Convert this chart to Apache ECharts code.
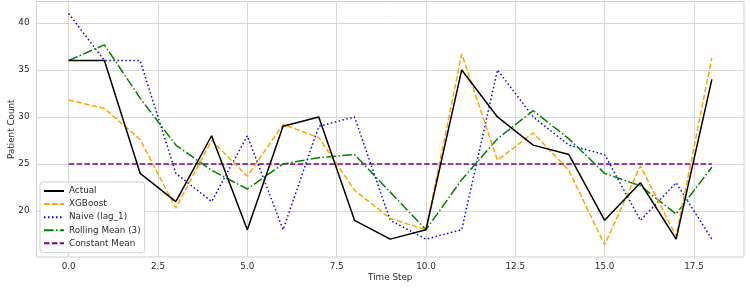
<!DOCTYPE html>
<html>
<head>
<meta charset="utf-8">
<script src="https://cdn.jsdelivr.net/npm/echarts@6/dist/echarts.min.js"></script>
<style>html,body{margin:0;padding:0;background:#fff}#c{width:750px;height:290px}</style>
</head>
<body>
<div id="c"></div>
<script>
const timeSteps = [0,1,2,3,4,5,6,7,8,9,10,11,12,13,14,15,16,17,18];
const actual   = [36,36,24,21,28,18,29,30,19,17,18,35,30,27,26,19,23,17,34];
const xgboost  = [31.8,30.9,27.6,20.3,27.5,23.7,29.2,27.8,22.2,19.2,18,36.7,25.4,28.3,24.3,16.4,24.8,17.3,36.3];
const naive    = [41,36,36,24,21,28,18,29,30,19,17,18,35,30,27,26,19,23,17];
const rolling  = [36,37.67,32,27,24.33,22.33,25,25.67,26,22,18,23.33,27.67,30.67,27.67,24,22.67,19.67,24.67];
const constantMean = 25.0;
const xTicks = [0,2.5,5,7.5,10,12.5,15,17.5];
const yTicks = [20,25,30,35,40];

const pairs = arr => timeSteps.map((t,i)=>[t,arr[i]]);
const font = 'DejaVu Sans';
const fs = 8.8;
const grid = '#d8d8d8';
const txt = '#2a2a2a';

const chart = echarts.init(document.getElementById('c'), null, {renderer:'canvas'});
chart.setOption({
  animation:false,
  backgroundColor:'#ffffff',
  grid:{left:36.5,right:6,top:1.5,bottom:33,show:true,borderColor:'#cfcfcf',borderWidth:1,backgroundColor:'#fff',
    containLabel:false,outerBoundsMode:'none'},
  xAxis:{
    type:'value',min:-0.9,max:18.9,
    name:'Time Step',nameLocation:'middle',nameGap:16.5,nameMoveOverlap:false,
    nameTextStyle:{fontFamily:font,fontSize:fs,color:txt},
    axisLine:{show:false},
    axisTick:{show:false,customValues:xTicks},
    axisLabel:{customValues:xTicks,fontFamily:font,fontSize:fs,color:txt,margin:5,
      formatter:v=>v.toFixed(1)},
    splitLine:{show:true,lineStyle:{color:grid,width:1}}
  },
  yAxis:{
    type:'value',min:15.1,max:42.28,
    name:'Patient Count',nameLocation:'middle',nameGap:20.5,nameMoveOverlap:false,
    nameTextStyle:{fontFamily:font,fontSize:fs,color:txt},
    axisLine:{show:false},
    axisTick:{show:false,customValues:yTicks},
    axisLabel:{customValues:yTicks,fontFamily:font,fontSize:fs,color:txt,margin:7},
    splitLine:{show:true,lineStyle:{color:grid,width:1}}
  },
  legend:{
    orient:'vertical',left:40,top:182,
    padding:[3,4,3.4,3],itemGap:1.08,itemWidth:20,itemHeight:12,
    backgroundColor:'rgba(255,255,255,0.85)',borderColor:'#d0d0d0',borderWidth:1,borderRadius:3,
    itemStyle:{opacity:0,borderWidth:0},
    textStyle:{fontFamily:font,fontSize:fs,color:txt,lineHeight:12},
    data:['Actual','XGBoost','Naive (lag_1)','Rolling Mean (3)','Constant Mean']
  },
  series:[
    {name:'Actual',type:'line',data:pairs(actual),symbol:'none',z:5,
      lineStyle:{color:'#000000',width:1.5},itemStyle:{color:'#000000'}},
    {name:'XGBoost',type:'line',data:pairs(xgboost),symbol:'none',z:4,
      lineStyle:{color:'#ffa500',width:1.5,type:[5.5,2.4]},itemStyle:{color:'#ffa500'}},
    {name:'Naive (lag_1)',type:'line',data:pairs(naive),symbol:'none',z:3,
      lineStyle:{color:'#0000ff',width:1.5,type:[1.5,2.5]},itemStyle:{color:'#0000ff'}},
    {name:'Rolling Mean (3)',type:'line',data:pairs(rolling),symbol:'none',z:3,
      lineStyle:{color:'#008000',width:1.5,type:[9.6,2.4,1.5,2.4]},itemStyle:{color:'#008000'}},
    {name:'Constant Mean',type:'line',data:pairs(timeSteps.map(()=>constantMean)),symbol:'none',z:2,
      lineStyle:{color:'#800080',width:1.5,type:[5.5,2.4]},itemStyle:{color:'#800080'}}
  ]
});
</script>
</body>
</html>
